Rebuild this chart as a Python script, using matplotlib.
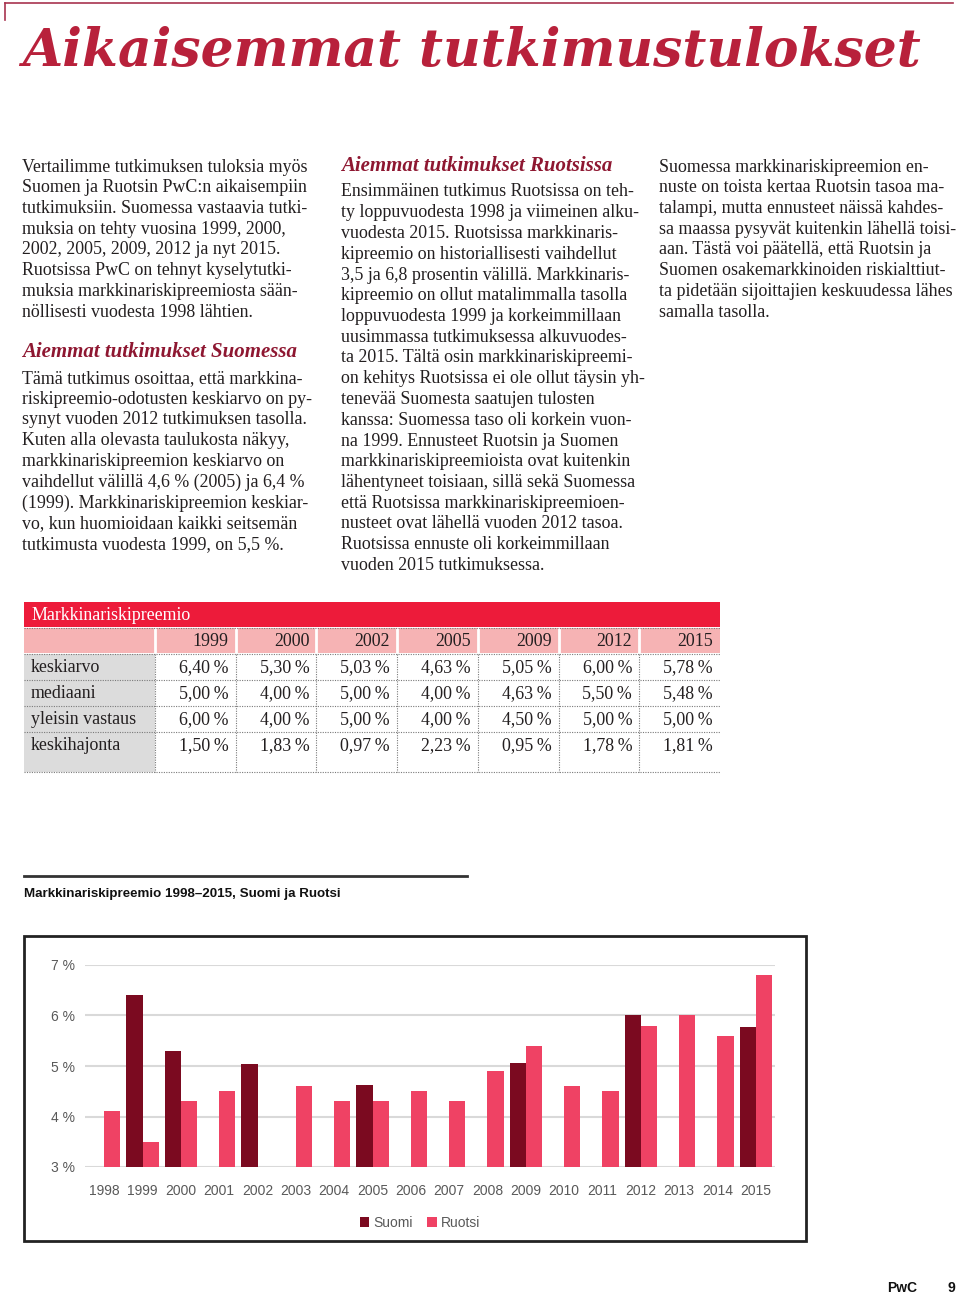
import matplotlib
matplotlib.use('Agg')
import matplotlib.pyplot as plt
from matplotlib.patches import Rectangle
import numpy as np

# ---- data ----
chart_years = np.arange(1998, 2016)
table_years = [1999, 2000, 2002, 2005, 2009, 2012, 2015]
row_labels = ['keskiarvo', 'mediaani', 'yleisin vastaus', 'keskihajonta']
keskiarvo = [6.40, 5.30, 5.03, 4.63, 5.05, 6.00, 5.78]
mediaani = [5.00, 4.00, 5.00, 4.00, 4.63, 5.50, 5.48]
yleisin = [6.00, 4.00, 5.00, 4.00, 4.50, 5.00, 5.00]
keskihajonta = [1.50, 1.83, 0.97, 2.23, 0.95, 1.78, 1.81]
# Ruotsi 1998-2015 (no survey 2002)
ruotsi = [4.1, 3.5, 4.3, 4.5, np.nan, 4.6, 4.3, 4.3, 4.5, 4.3, 4.9, 5.4, 4.6, 4.5, 5.8, 6.0, 5.6, 6.8]

title = 'Aikaisemmat tutkimustulokset'
col1_a = ['Vertailimme tutkimuksen tuloksia myös',
          'Suomen ja Ruotsin PwC:n aikaisempiin',
          'tutkimuksiin. Suomessa vastaavia tutki-',
          'muksia on tehty vuosina 1999, 2000,',
          '2002, 2005, 2009, 2012 ja nyt 2015.',
          'Ruotsissa PwC on tehnyt kyselytutki-',
          'muksia markkinariskipreemiosta sään-',
          'nöllisesti vuodesta 1998 lähtien.']
head1 = 'Aiemmat tutkimukset Suomessa'
col1_b = ['Tämä tutkimus osoittaa, että markkina-',
          'riskipreemio-odotusten keskiarvo on py-',
          'synyt vuoden 2012 tutkimuksen tasolla.',
          'Kuten alla olevasta taulukosta näkyy,',
          'markkinariskipreemion keskiarvo on',
          'vaihdellut välillä 4,6 % (2005) ja 6,4 %',
          '(1999). Markkinariskipreemion keskiar-',
          'vo, kun huomioidaan kaikki seitsemän',
          'tutkimusta vuodesta 1999, on 5,5 %.']
head2 = 'Aiemmat tutkimukset Ruotsissa'
col2 = ['Ensimmäinen tutkimus Ruotsissa on teh-',
        'ty loppuvuodesta 1998 ja viimeinen alku-',
        'vuodesta 2015. Ruotsissa markkinaris-',
        'kipreemio on historiallisesti vaihdellut',
        '3,5 ja 6,8 prosentin välillä. Markkinaris-',
        'kipreemio on ollut matalimmalla tasolla',
        'loppuvuodesta 1999 ja korkeimmillaan',
        'uusimmassa tutkimuksessa alkuvuodes-',
        'ta 2015. Tältä osin markkinariskipreemi-',
        'on kehitys Ruotsissa ei ole ollut täysin yh-',
        'tenevää Suomesta saatujen tulosten',
        'kanssa: Suomessa taso oli korkein vuon-',
        'na 1999. Ennusteet Ruotsin ja Suomen',
        'markkinariskipreemioista ovat kuitenkin',
        'lähentyneet toisiaan, sillä sekä Suomessa',
        'että Ruotsissa markkinariskipreemioen-',
        'nusteet ovat lähellä vuoden 2012 tasoa.',
        'Ruotsissa ennuste oli korkeimmillaan',
        'vuoden 2015 tutkimuksessa.']
col3 = ['Suomessa markkinariskipreemion en-',
        'nuste on toista kertaa Ruotsin tasoa ma-',
        'talampi, mutta ennusteet näissä kahdes-',
        'sa maassa pysyvät kuitenkin lähellä toisi-',
        'aan. Tästä voi päätellä, että Ruotsin ja',
        'Suomen osakemarkkinoiden riskialttiut-',
        'ta pidetään sijoittajien keskuudessa lähes',
        'samalla tasolla.']

SERIF = 'Liberation Serif'
HEADF = 'DejaVu Serif'
SANS = 'Liberation Sans'
TXT = '#231f20'
RED = '#ed1b3a'
PINK = '#f6b3b4'
DARK = '#7b0a20'
ROSE = '#ef4264'

fig = plt.figure(figsize=(9.6, 12.96), dpi=100)
page = fig.add_axes([0, 0, 1, 1])
page.set_xlim(0, 960)
page.set_ylim(1296, 0)
page.axis('off')

# frame line at top
page.plot([5, 953], [3, 3], color='#a8334f', lw=1.2)
page.plot([5, 5], [3, 20], color='#a8334f', lw=1.2)

renderer = fig.canvas.get_renderer()

def fit(t, target):
    w = t.get_window_extent(renderer).width
    t.set_fontsize(t.get_fontsize() * target / w)

t = page.text(22, 66, title, fontfamily=HEADF, fontweight='bold', style='italic',
              fontsize=40, color='#b8213b', va='baseline')
fit(t, 898)

LINE = 20.75
BODY = 12.85

def para(x, y0, lines):
    for i, s in enumerate(lines):
        page.text(x, y0 + i * LINE, s, fontfamily=SERIF, fontsize=BODY,
                  color=TXT, va='baseline')

def head(x, y, s, w):
    h = page.text(x, y, s, fontfamily=SERIF, fontweight='bold', style='italic',
                  fontsize=13, color='#8e1731', va='baseline')
    fit(h, w)

para(22, 171.5, col1_a)
head(22, 357, head1, 274)
para(22, 383, col1_b)
head(341, 171, head2, 271)
para(341, 196.5, col2)
para(659, 171.5, col3)

# ---- table ----
x0, lab_w, col_w = 24, 131, 80.7
bounds = x0 + lab_w + col_w * np.arange(len(table_years) + 1)
right = bounds[-1]
page.add_patch(Rectangle((x0, 602), right - x0, 25, color=RED, lw=0))
page.text(31, 620, 'Markkinariskipreemio', fontfamily=SERIF, fontsize=BODY,
          color='white', va='baseline')
page.add_patch(Rectangle((x0, 628), right - x0, 25, color=PINK, lw=0))
row_top = 654
row_h = 26
table_bottom = 772
page.add_patch(Rectangle((x0, row_top), lab_w, table_bottom - row_top, color='#dcdcdc', lw=0))
for b in bounds[:-1]:
    page.plot([b, b], [628, 653], color='white', lw=2)
    page.plot([b, b], [row_top, table_bottom], color='#7a7a7a', lw=0.8, ls=(0, (1, 1.2)))
for yy in [628, row_top] + [row_top + row_h * k for k in range(1, 4)] + [table_bottom]:
    page.plot([x0, right], [yy, yy], color='#7a7a7a', lw=0.8, ls=(0, (1, 1.2)))
for j, yr in enumerate(table_years):
    page.text(bounds[j + 1] - 7, 646, str(yr), fontfamily=SERIF, fontsize=BODY,
              color=TXT, ha='right', va='baseline')
rows = [keskiarvo, mediaani, yleisin, keskihajonta]
for i, (lab, vals) in enumerate(zip(row_labels, rows)):
    yb = row_top + row_h * i + 18
    page.text(31, yb, lab, fontfamily=SERIF, fontsize=BODY, color=TXT, va='baseline')
    for j, v in enumerate(vals):
        page.text(bounds[j + 1] - 7, yb, f'{v:.2f}'.replace('.', ',') + '\u2009%',
                  fontfamily=SERIF, fontsize=BODY, color=TXT, ha='right', va='baseline')

# ---- chart ----
page.plot([24, 467], [876, 876], color='#333333', lw=2)
page.text(24, 897, 'Markkinariskipreemio 1998–2015, Suomi ja Ruotsi', fontfamily=SANS,
          fontweight='bold', fontsize=9.6, color='#111111', va='baseline')
page.add_patch(Rectangle((24, 936), 782, 305, fill=False, lw=2, edgecolor='#222222'))

ax = fig.add_axes([85 / 960, 1 - 1167 / 1296, 690 / 960, 202 / 1296])
xi = np.arange(len(chart_years))
xs = np.searchsorted(chart_years, table_years)
w = 0.42
ax.bar(xs - w / 2, keskiarvo, w, color=DARK, label='Suomi')
ax.bar(xi + w / 2, ruotsi, w, color=ROSE, label='Ruotsi')
ax.set_xlim(-0.5, len(chart_years) - 0.5)
ax.set_ylim(3, 7)
ax.set_yticks([3, 4, 5, 6, 7])
ax.set_yticklabels([f'{v} %' for v in [3, 4, 5, 6, 7]])
ax.set_xticks(xi)
ax.set_xticklabels([str(y) for y in chart_years])
ax.yaxis.grid(True, color='#d9d9d9', lw=1.5)
ax.set_axisbelow(True)
for s in ax.spines.values():
    s.set_visible(False)
ax.tick_params(axis='both', length=0, labelcolor='#595959', labelsize=10)
ax.tick_params(axis='x', pad=12)
ax.tick_params(axis='y', pad=7)
for lbl in ax.get_xticklabels() + ax.get_yticklabels():
    lbl.set_fontfamily(SANS)
ax.legend(loc='center', bbox_to_anchor=(420 / 960, 1 - 1223 / 1296),
          bbox_transform=fig.transFigure, ncol=2, frameon=False,
          prop={'family': SANS, 'size': 10}, labelcolor='#595959',
          handlelength=0.7, handleheight=0.7, handletextpad=0.3, columnspacing=1.0)

page.text(887, 1292, 'PwC', fontfamily=SANS, fontweight='bold', fontsize=10, color='#111111', va='baseline')
page.text(948, 1292, '9', fontfamily=SANS, fontweight='bold', fontsize=10, color='#111111', va='baseline')

fig.savefig('out.png', dpi=100)
